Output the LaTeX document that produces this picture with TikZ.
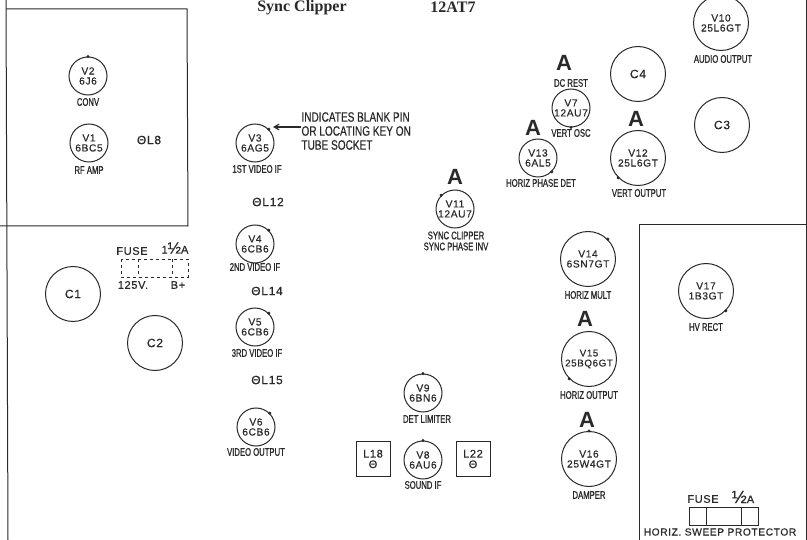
\documentclass[tikz,border=0pt]{standalone}
\usepackage{fontspec}
\setmainfont{Liberation Sans}
\newfontfamily\tubefont[LetterSpace=6,FakeBold=0.5]{Liberation Sans}
\newfontfamily\capfont[FakeStretch=0.7,FakeBold=1]{Liberation Sans}
\newfontfamily\notefont[FakeStretch=0.745,FakeBold=0.4]{Liberation Sans}
\newfontfamily\headfont{Liberation Serif}
\usetikzlibrary{arrows}
\definecolor{ink}{gray}{0.16}

\begin{document}
\begin{tikzpicture}[x=1pt, y=-1pt, >=angle 60, color=ink, line width=1pt,
  tube/.style={circle, draw, inner sep=0pt, minimum size=38pt, align=center, font=\tubefont\fontsize{10.2}{10}\selectfont},
  bigtube/.style={tube, minimum size=55pt},
  filtercap/.style={circle, draw, inner sep=0pt, minimum size=55pt, font=\tubefont\fontsize{12}{12}\selectfont},
  caption/.style={font=\capfont\fontsize{11}{11}\selectfont, align=center, inner sep=0pt},
  coil/.style={font=\tubefont\fontsize{12}{12}\selectfont, inner sep=0pt},
  coilbox/.style={rectangle, draw, minimum size=34pt, inner sep=0pt, align=center, font=\tubefont\fontsize{11}{10.5}\selectfont},
  flag/.style={font=\bfseries\fontsize{22}{22}\selectfont, inner sep=0pt},
  fusetext/.style={font=\tubefont\fontsize{11}{11}\selectfont, inner sep=0pt},
  header/.style={font=\headfont\bfseries\fontsize{16}{16}\selectfont, inner sep=0pt}]

  \useasboundingbox (0,0) rectangle (807,540);

  % chassis outlines
  \draw (6,0) -- (8,540);
  \draw (6,9) -- (187,9) -- (188,226) -- (0,226);
  \draw (806,0) -- (806,540);
  \draw (639,540) -- (639,225) -- (807,225);

  \node[header] (syncclipper) at (302,7.5) {Sync Clipper};
  \node[header] (synctype) at (453,7.5) {12AT7};

  % tuner box
  \node[tube] (v2) at (88,76) {V2\\6J6};
  \node[caption, below of=v2, node distance=26pt] (v2cap) {CONV};
  \node[tube] (v1) at (89,143) {V1\\6BC5};
  \node[caption, below of=v1, node distance=27pt] (v1cap) {RF AMP};
  \node[coil] (l8) at (149,140) {ΘL8};

  % video if strip
  \node[tube] (v3) at (255,143) {V3\\6AG5};
  \node[caption, below of=v3, node distance=26pt, xshift=2pt] (v3cap) {1ST VIDEO IF};
  \node[coil] (l12) at (268,202) {ΘL12};
  \node[tube] (v4) at (255,244) {V4\\6CB6};
  \node[caption, below of=v4, node distance=23pt] (v4cap) {2ND VIDEO IF};
  \node[coil] (l14) at (267,291) {ΘL14};
  \node[tube] (v5) at (255,327) {V5\\6CB6};
  \node[caption, below of=v5, node distance=26pt, xshift=2pt] (v5cap) {3RD VIDEO IF};
  \node[coil] (l15) at (267,380) {ΘL15};
  \node[tube] (v6) at (256,427) {V6\\6CB6};
  \node[caption, below of=v6, node distance=25pt] (v6cap) {VIDEO OUTPUT};

  \node[font=\notefont\fontsize{13.5}{14}\selectfont, align=left, anchor=west, inner sep=0pt] (keynote) at (301,131) {INDICATES BLANK PIN\\OR LOCATING KEY ON\\TUBE SOCKET};
  \coordinate (keytip) at (273,127);
  \draw[->, line width=1.2pt] (keynote.west |- keytip) -- (keytip);

  % line fuse
  \node[filtercap] (c1) at (73,294) {C1};
  \node[filtercap] (c2) at (155,343) {C2};
  \node[fusetext] (fuse1) at (132,251) {FUSE};
  \node[fusetext] (fuse1amp) at (175,248) {1{\fontsize{16}{16}\selectfont ½}A};
  \node[fusetext] (fuse1volt) at (133,285) {125V.};
  \node[fusetext] (fuse1bplus) at (178,285) {B+};
  \draw[dashed, line width=0.8pt] (121,259) rectangle (188,277);
  \draw[dashed, line width=0.8pt] (138,259) -- (138,277);
  \draw[dashed, line width=0.8pt] (172,259) -- (172,277);

  % sound
  \node[tube] (v9) at (423,393) {V9\\6BN6};
  \node[caption, below of=v9, node distance=26pt, xshift=4pt] (v9cap) {DET LIMITER};
  \node[tube] (v8) at (423,460) {V8\\6AU6};
  \node[caption, below of=v8, node distance=25pt] (v8cap) {SOUND IF};
  \node[coilbox] (l18) at (373,459) {L18\\Θ};
  \node[coilbox] (l22) at (473,459) {L22\\Θ};

  % sync and deflection
  \node[tube] (v11) at (455,209) {V11\\12AU7};
  \node[flag, above of=v11, node distance=32pt] (v11flag) {A};
  \node[caption, below of=v11, node distance=32pt, xshift=1pt] (v11cap) {SYNC CLIPPER\\SYNC PHASE INV};
  \node[tube] (v13) at (538,158) {V13\\6AL5};
  \node[flag, above of=v13, node distance=30pt, xshift=-5pt] (v13flag) {A};
  \node[caption, below of=v13, node distance=25pt, xshift=3pt] (v13cap) {HORIZ PHASE DET};
  \node[tube] (v7) at (571,108) {V7\\12AU7};
  \node[caption, above of=v7, node distance=25pt] (v7top) {DC REST};
  \node[flag, above of=v7, node distance=45pt, xshift=-7pt] (v7flag) {A};
  \node[caption, below of=v7, node distance=25pt] (v7cap) {VERT OSC};
  \node[bigtube] (v12) at (638,158) {V12\\25L6GT};
  \node[flag, above of=v12, node distance=39pt, xshift=-2pt] (v12flag) {A};
  \node[caption, below of=v12, node distance=35pt, xshift=1pt] (v12cap) {VERT OUTPUT};
  \node[bigtube] (v10) at (721,23) {V10\\25L6GT};
  \node[caption, below of=v10, node distance=36pt, xshift=2pt] (v10cap) {AUDIO OUTPUT};
  \node[filtercap] (c4) at (638,74) {C4};
  \node[filtercap] (c3) at (722,125) {C3};

  \node[bigtube] (v14) at (588,259) {V14\\6SN7GT};
  \node[caption, below of=v14, node distance=36pt] (v14cap) {HORIZ MULT};
  \node[bigtube, font=\tubefont\fontsize{9.8}{10}\selectfont] (v15) at (589,359) {V15\\25BQ6GT};
  \node[flag, above of=v15, node distance=40pt, xshift=-4pt] (v15flag) {A};
  \node[caption, below of=v15, node distance=36pt] (v15cap) {HORIZ OUTPUT};
  \node[bigtube] (v16) at (589,459) {V16\\25W4GT};
  \node[flag, above of=v16, node distance=39pt, xshift=-2pt] (v16flag) {A};
  \node[caption, below of=v16, node distance=36pt] (v16cap) {DAMPER};

  % high voltage box
  \node[bigtube] (v17) at (706,291) {V17\\1B3GT};
  \node[caption, below of=v17, node distance=36pt] (v17cap) {HV RECT};
  \node[fusetext] (fuse2) at (703,499) {FUSE};
  \node[fusetext] (fuse2amp) at (743,497) {{\fontsize{18}{18}\selectfont ½}A};
  \draw (689,507) rectangle (758,525);
  \draw (706,507) -- (706,525);
  \draw (741,507) -- (741,525);
  \node[font=\tubefont\fontsize{10.2}{10.2}\selectfont, inner sep=0pt] (fuse2cap) at (720,532) {HORIZ. SWEEP PROTECTOR};

  % blank pin marks
  \foreach \tubename/\pinangle in {v2/90, v3/45, v4/45, v5/45, v6/45, v7/270, v8/90, v9/90, v10/115, v11/135, v12/225, v13/315, v14/45, v15/225, v16/90, v17/315}
    \fill (\tubename.\pinangle) circle (1.7);
\end{tikzpicture}
\end{document}
